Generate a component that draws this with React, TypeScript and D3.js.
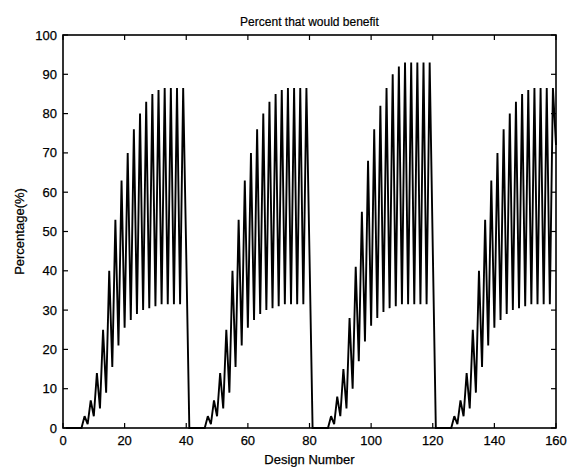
import React from "react";
import * as d3 from "d3";

const cycle1 = [0, 0, 0, 0, 0, 0, 3, 1, 7, 3, 14, 5, 25, 9, 40, 15.5, 53, 21, 63, 25.5, 70, 27.5, 76, 29, 80, 30, 83, 30.5, 85, 31, 86, 31.5, 86.5, 31.5, 86.5, 31.5, 86.5, 31.5, 86.5, 44];
const cycle2 = [0, 0, 0, 0, 0, 0, 3, 1, 7, 3, 14, 5, 25, 9, 40, 15.5, 53, 21, 63, 25.5, 70, 27.5, 76, 29, 80, 30, 83, 30.5, 85, 31, 86, 31.5, 86.5, 31.5, 86.5, 31.5, 86.5, 31.5, 86.5, 44];
const cycle3 = [0, 0, 0, 0, 0, 0, 3, 1, 8, 3, 15, 5, 28, 10, 41, 17, 55, 22, 68, 26, 76, 28, 82, 29.5, 86.5, 30.5, 90, 31, 92, 31.5, 93, 31.5, 93, 31.5, 93, 31.5, 93, 31.5, 93, 46];
const cycle4 = [0, 0, 0, 0, 0, 0, 3, 1, 7, 3, 14, 5, 25, 9, 40, 15.5, 53, 21, 63, 25.5, 70, 27.5, 76, 29, 80, 30, 83, 30.5, 85, 31, 86, 31.5, 86.5, 31.5, 86.5, 31.5, 86.5, 31.5, 86.5, 72];

const xTicks = [0, 20, 40, 60, 80, 100, 120, 140, 160];
const yTicks = [0, 10, 20, 30, 40, 50, 60, 70, 80, 90, 100];

const title = "Percent that would benefit";
const xLabel = "Design Number";
const yLabel = "Percentage(%)";

export default function App() {
  const W = 570, H = 467;
  const m = { left: 63, right: 14, top: 35, bottom: 39 };
  const values = [...cycle1, ...cycle2, ...cycle3, ...cycle4];
  const data = values.map((v, i) => [i + 1, v] as [number, number]);
  const x = d3.scaleLinear().domain([0, 160]).range([m.left, W - m.right]);
  const y = d3.scaleLinear().domain([0, 100]).range([H - m.bottom, m.top]);
  const line = d3.line<[number, number]>().x(d => x(d[0])).y(d => y(d[1]));
  const font = "Liberation Sans, Arial, Helvetica, sans-serif";
  const tl = 5;
  const x0 = x(0), x1 = x(160), y0 = y(0), y1 = y(100);
  return (
    <svg width={W} height={H} style={{ position: "absolute", left: 0, top: 0, background: "#fff" }} fontFamily={font}>
      <rect x={0} y={0} width={W} height={H} fill="#fff" />
      <path d={line(data) ?? ""} fill="none" stroke="#000" strokeWidth={1.9} strokeLinejoin="miter" strokeMiterlimit={2} />
      <rect x={x0} y={y1} width={x1 - x0} height={y0 - y1} fill="none" stroke="#000" strokeWidth={1.6} />
      {xTicks.map(t => (
        <g key={"x" + t}>
          <line x1={x(t)} x2={x(t)} y1={y0} y2={y0 - tl} stroke="#000" strokeWidth={1.2} />
          <line x1={x(t)} x2={x(t)} y1={y1} y2={y1 + tl} stroke="#000" strokeWidth={1.2} />
          <text x={x(t)} y={y0 + 17} textAnchor="middle" fontSize={13} fill="#000" stroke="#000" strokeWidth={0.25}>{t}</text>
        </g>
      ))}
      {yTicks.map(t => (
        <g key={"y" + t}>
          <line x1={x0} x2={x0 + tl} y1={y(t)} y2={y(t)} stroke="#000" strokeWidth={1.2} />
          <line x1={x1} x2={x1 - tl} y1={y(t)} y2={y(t)} stroke="#000" strokeWidth={1.2} />
          <text x={x0 - 6} y={y(t) + 4.5} textAnchor="end" fontSize={13} fill="#000" stroke="#000" strokeWidth={0.25}>{t}</text>
        </g>
      ))}
      <text x={(x0 + x1) / 2} y={26} textAnchor="middle" fontSize={12} fill="#000" stroke="#000" strokeWidth={0.2}>{title}</text>
      <text x={(x0 + x1) / 2} y={H - 3} textAnchor="middle" fontSize={13} fill="#000" stroke="#000" strokeWidth={0.25}>{xLabel}</text>
      <text transform={`translate(24,${(y0 + y1) / 2}) rotate(-90)`} textAnchor="middle" fontSize={13} fill="#000" stroke="#000" strokeWidth={0.25}>{yLabel}</text>
    </svg>
  );
}
